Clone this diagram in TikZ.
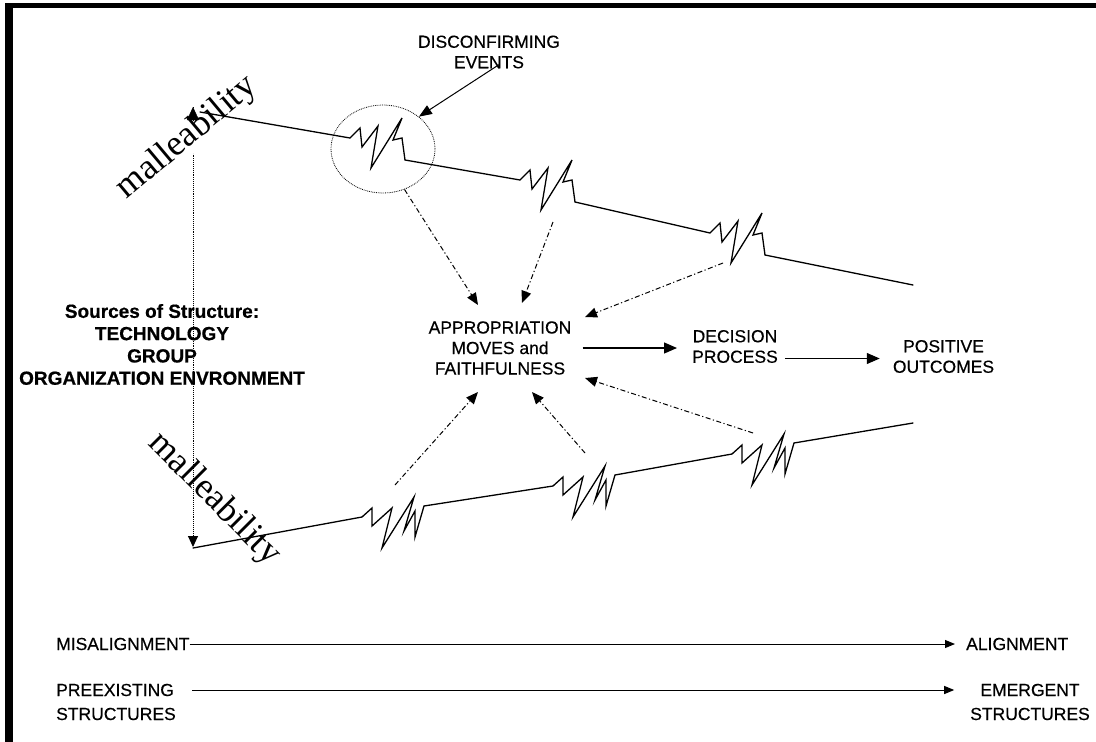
\documentclass[tikz,border=0pt]{standalone}
\usepackage{fontspec}
\setmainfont{Liberation Sans}
\newfontfamily\malfont{Liberation Serif}
\usetikzlibrary{arrows.meta,shapes.geometric}

\tikzset{
  lbl/.style={font=\fontsize{17.5}{20.5}\selectfont\addfontfeature{FakeBold=0.4}, align=center, inner sep=0pt},
  srcs/.style={font=\fontsize{19}{22.3}\selectfont\bfseries\addfontfeature{FakeBold=0.6}, align=center, inner sep=0pt},
  mal/.style={font=\fontsize{36}{40}\selectfont\malfont, inner sep=0pt},
  zline/.style={line width=1.3pt, line join=miter, line cap=round},
  dda/.style={line width=1pt, dash pattern=on 5pt off 2.5pt on 1.2pt off 2.5pt,
              -{Triangle[length=12pt,width=10pt]}},
  arr/.style={line width=1.2pt, -{Triangle[length=13pt,width=11pt]}},
  thinarr/.style={line width=1pt, -{Triangle[length=10pt,width=8pt]}},
}

\begin{document}
\begin{tikzpicture}[x=1pt,y=-1pt]
\useasboundingbox (0,0) rectangle (1096,742);

% ===== Frame =====
\fill (5,3) rectangle (1096,8);
\fill (5,3) rectangle (13,742);

% ===== Malleability axis =====
\coordinate (vtop) at (193,107);
\coordinate (vtip) at (193,121);
\coordinate (vbot) at (193,547);
\draw[densely dotted, line width=0.9pt, -{Triangle[length=11pt,width=10pt]}] (vtop) -- (vbot);

\node[mal, rotate=40, fill=white] (maltop) at (187,138) {malleability};
\node[mal, rotate=-45] (malbot) at (214,499) {malleability};
\draw[-{Triangle[length=13pt,width=12pt]}] (vtip) -- (vtop);

% ===== Upper line =====
\draw[zline] (200,112) -- (350,138) (405,160) -- (520,180)
             (575,202) -- (710,233) (765,255) -- (913,285);
\foreach \sx/\sy in {350/138, 520/180, 710/233} {
    \draw[zline] (\sx,\sy) -- (\sx+10,\sy-10) -- (\sx+12,\sy+9) -- (\sx+28,\sy-12)
        -- (\sx+21,\sy+30) -- (\sx+52,\sy-20) -- (\sx+43,\sy+2) -- (\sx+52,\sy)
        -- (\sx+55,\sy+22);
}

% ===== Lower line =====
\draw[zline] (193,548) -- (362,517) (424,506) -- (553,486)
             (615,475) -- (732,454) (794,443) -- (913,423);
\foreach \sx/\sy in {362/517, 553/486, 732/454} {
    \draw[zline] (\sx,\sy) -- (\sx+10,\sy-9) -- (\sx+10,\sy+9) -- (\sx+30,\sy-9)
        -- (\sx+20,\sy+31) -- (\sx+52,\sy-20) -- (\sx+42,\sy+14) -- (\sx+53,\sy-6)
        -- (\sx+53,\sy+20) -- (\sx+62,\sy-11);
}

% ===== Disconfirming events =====
\node[draw, densely dotted, ellipse, line width=0.8pt,
      minimum width=104pt, minimum height=88pt] (evt) at (383,149) {};
\node[lbl] (disc) at (489,52) {DISCONFIRMING\\EVENTS};
\draw[line width=1pt, -{Triangle[length=13pt,width=10pt]}] ([xshift=10pt,yshift=4pt]disc.south) -- (evt.42);

% ===== Middle chain =====
\node[lbl] (appr) at (500,348) {APPROPRIATION\\MOVES and\\FAITHFULNESS};
\node[lbl] (dec) at (735,346.5) {DECISION\\PROCESS};
\node[lbl] (pos) at (943.5,356.5) {POSITIVE\\OUTCOMES};
\coordinate (d1) at (appr.east);
\coordinate (d2) at ([yshift=-12pt]dec.east);
\draw[arr, shorten <=11pt, shorten >=15pt] (d1) -- (d1 -| dec.west);
\draw[arr, shorten <=7pt, shorten >=13pt] (d2) -- (d2 -| pos.west);

% ===== Sources of structure =====
\node[srcs] (src) at (162,344.5) {Sources of Structure:\\TECHNOLOGY\\GROUP\\ORGANIZATION ENVRONMENT};

% ===== Dash-dot arrows =====
\coordinate (s2) at (553,222);
\coordinate (s3) at (723,263);
\coordinate (s4) at (395,485);
\coordinate (s5) at (585,453);
\coordinate (s6) at (753,433);
\coordinate (t1) at (478,305);
\coordinate (t2) at (522,303);
\coordinate (t3) at (585,317);
\coordinate (t4) at (478,392);
\coordinate (t5) at (532,392);
\coordinate (t6) at (585,378);
\draw[dda] (evt.298) -- (t1);
\draw[dda] (s2) -- (t2);
\draw[dda] (s3) -- (t3);
\draw[dda] (s4) -- (t4);
\draw[dda] (s5) -- (t5);
\draw[dda] (s6) -- (t6);

% ===== Bottom scales =====
\node[lbl, anchor=west] (mis) at (56,644) {MISALIGNMENT};
\node[lbl, anchor=west] (ali) at (966,644) {ALIGNMENT};
\draw[thinarr] (mis.east) -- ([xshift=-11pt]ali.west);

\node[lbl, anchor=west] (pre) at (56,690) {PREEXISTING};
\node[lbl, anchor=west] (prest) at (56,714) {STRUCTURES};
\node[lbl] (emg) at (1030,690) {EMERGENT};
\node[lbl] (emgst) at (1030,714) {STRUCTURES};
\draw[thinarr] ([xshift=18pt]pre.east) -- ([xshift=-26pt]emg.west);

\end{tikzpicture}
\end{document}
